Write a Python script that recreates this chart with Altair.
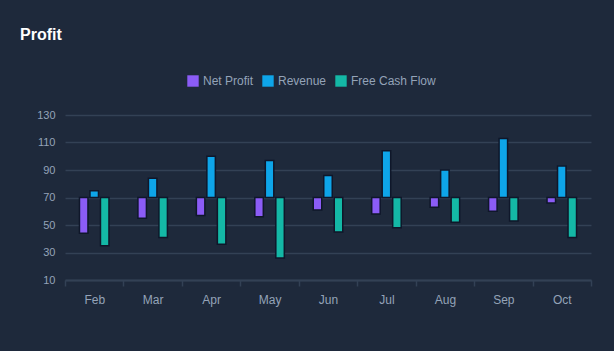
import altair as alt
import pandas as pd

months = ["Feb", "Mar", "Apr", "May", "Jun", "Jul", "Aug", "Sep", "Oct"]
net_profit = [44, 55, 57, 56, 61, 58, 63, 60, 66]
revenue = [75, 84, 100, 97, 86, 104, 90, 113, 93]
free_cash_flow = [35, 41, 36, 26, 45, 48, 52, 53, 41]
series_names = ["Net Profit", "Revenue", "Free Cash Flow"]
series_colors = ["#8b5cf6", "#0ea5e9", "#14b8a6"]
series_shift = [-10.5, 0, 10.5]
baseline = 70
y_ticks = [10, 30, 50, 70, 90, 110, 130]

rows = []
for name, vals in zip(series_names, [net_profit, revenue, free_cash_flow]):
    for m, v in zip(months, vals):
        rows.append({"month": m, "series": name, "value": v, "base": baseline})
df = pd.DataFrame(rows)

font = "Helvetica, Arial, sans-serif"

x_enc = alt.X("month:N", sort=months, title=None,
              scale=alt.Scale(paddingInner=0, paddingOuter=0),
              axis=alt.Axis(labelAngle=0, tickBand="extent", ticks=True, tickSize=6,
                            tickColor="#334155", tickWidth=1.5,
                            domainColor="#334155", domainWidth=2,
                            labelColor="#94a3b8", labelFontSize=12, labelFont=font,
                            labelPadding=8, grid=False))
y_enc = alt.Y("value:Q", title=None,
              scale=alt.Scale(domain=[10, 130], nice=False, zero=False),
              axis=alt.Axis(values=y_ticks, domain=False, ticks=False,
                            gridColor="#334155", gridWidth=1.5,
                            labelColor="#94a3b8", labelFontSize=11, labelFont=font,
                            labelPadding=10))
color_enc = alt.Color("series:N", sort=series_names,
                      scale=alt.Scale(domain=series_names, range=series_colors),
                      legend=alt.Legend(title=None, orient="none", direction="horizontal",
                                        legendX=122, legendY=-40,
                                        symbolType="square", symbolSize=130,
                                        symbolStrokeWidth=0, symbolOpacity=1,
                                        labelColor="#94a3b8", labelFontSize=12,
                                        labelFont=font, labelOffset=4,
                                        columnPadding=8))

layers = []
for name, shift in zip(series_names, series_shift):
    layers.append(
        alt.Chart(df).transform_filter(alt.datum.series == name).mark_bar(
            stroke="#0f172a", strokeWidth=1.5, width=8.5, xOffset=shift
        ).encode(x=x_enc, y=y_enc, y2="base:Q", color=color_enc)
    )

chart = alt.layer(*layers).properties(
    width=526, height=165,
    background="#1e293b",
    padding={"left": 65, "top": 115, "right": 23, "bottom": 71},
    autosize=alt.AutoSizeParams(type="none"),
    title=alt.Title("Profit", anchor="start", frame="group", dx=-45, offset=32,
                    color="#ffffff", fontSize=16, fontWeight="bold", font=font),
).configure_view(stroke=None)

chart.save("out.html", embed_options={"renderer": "svg", "actions": False})
